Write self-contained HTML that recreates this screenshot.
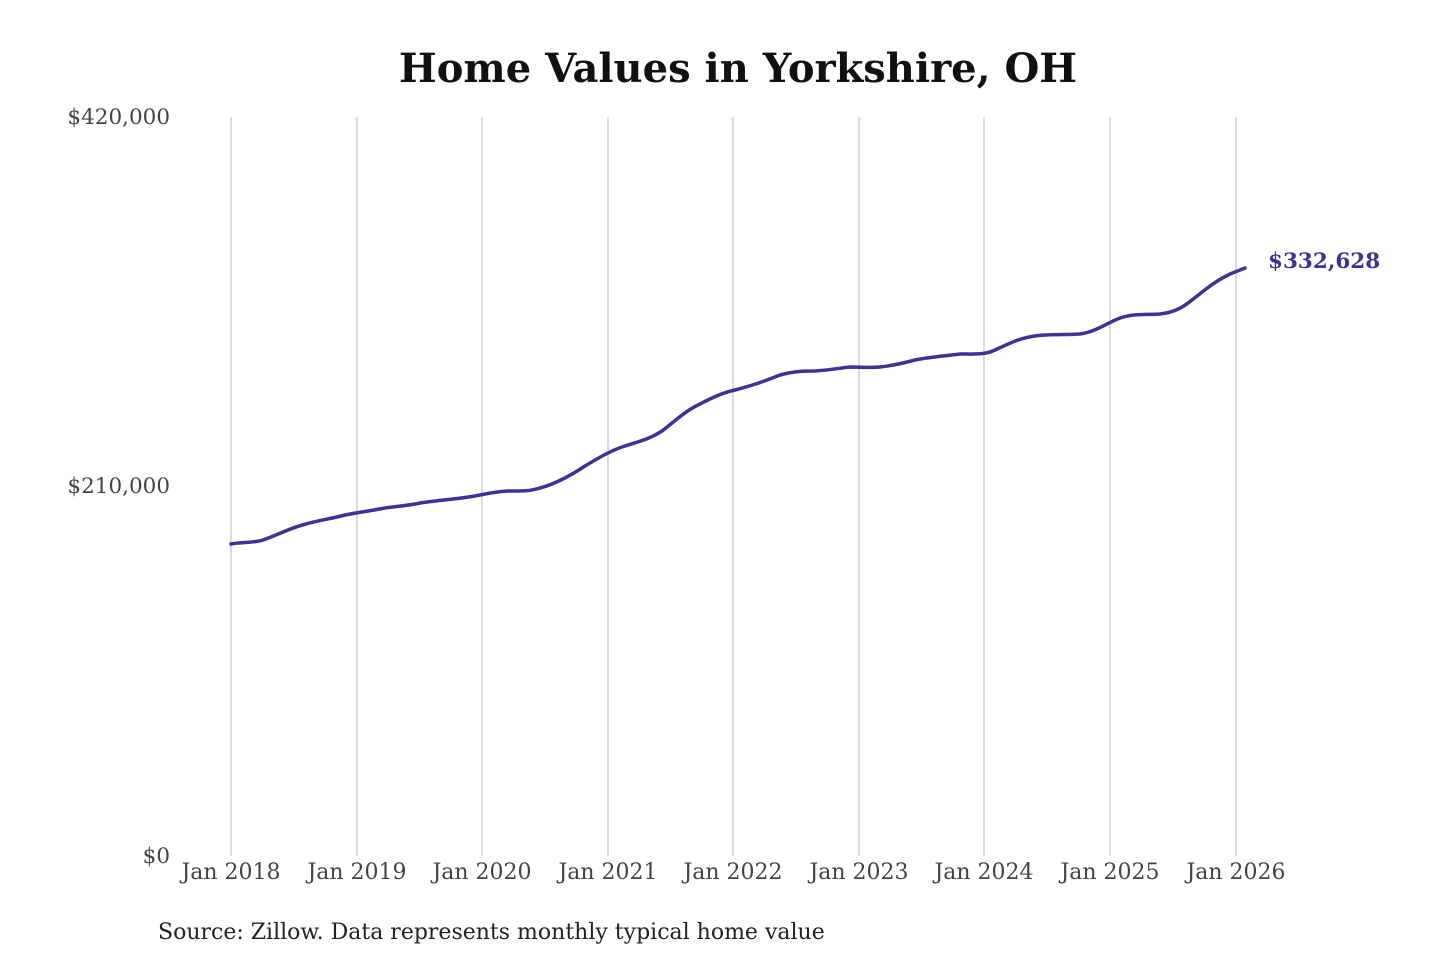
<!DOCTYPE html>
<html><head><style>
html,body{margin:0;padding:0;background:#fff;}
svg text{font-family:"DejaVu Serif","Liberation Serif",serif;}
</style></head><body>
<svg width="1440" height="960" viewBox="0 0 1440 960" xmlns="http://www.w3.org/2000/svg">
<rect width="1440" height="960" fill="#fff"/>
<text x="738" y="82" text-anchor="middle" font-size="40" font-weight="bold" fill="#111">Home Values in Yorkshire, OH</text>
<g stroke="#c8c8c8" stroke-width="1.3">
<line x1="231" y1="117" x2="231" y2="856"/>
<line x1="357" y1="117" x2="357" y2="856"/>
<line x1="482" y1="117" x2="482" y2="856"/>
<line x1="608" y1="117" x2="608" y2="856"/>
<line x1="733" y1="117" x2="733" y2="856"/>
<line x1="859" y1="117" x2="859" y2="856"/>
<line x1="984" y1="117" x2="984" y2="856"/>
<line x1="1110" y1="117" x2="1110" y2="856"/>
<line x1="1236" y1="117" x2="1236" y2="856"/>
</g>
<g font-size="21.5" fill="#444" text-anchor="end">
<text x="170" y="124">$420,000</text>
<text x="170" y="493">$210,000</text>
<text x="170" y="863">$0</text>
</g>
<g font-size="22" fill="#444" text-anchor="middle">
<text x="231" y="879">Jan 2018</text>
<text x="357" y="879">Jan 2019</text>
<text x="482" y="879">Jan 2020</text>
<text x="608" y="879">Jan 2021</text>
<text x="733" y="879">Jan 2022</text>
<text x="859" y="879">Jan 2023</text>
<text x="984" y="879">Jan 2024</text>
<text x="1110" y="879">Jan 2025</text>
<text x="1236" y="879">Jan 2026</text>
</g>
<path fill="none" stroke="#3b3494" stroke-width="3.5" stroke-linejoin="round" stroke-linecap="round"
d="M231,544 C240,542 255,543 263,540 C280,534 290,528 306,524 C320,520 330,519 345,515 C360,512 370,511 385,508 C400,506 412,505 420,503 C440,500 460,499 480,495 C490,493 500,491 510,491 C525,491 530,491 540,488 C555,484 570,476 585,466 C600,457 612,450 625,446 C640,441 650,439 662,431 C675,421 685,411 700,404 C715,396 725,392 735,390 C750,386 760,383 780,375 C795,371 805,371 815,371 C830,370 840,368 850,367 C860,367 870,368 880,367 C890,366 900,364 915,360 C930,357 945,356 960,354 C975,354 985,355 995,350 C1010,343 1020,338 1035,336 C1050,334 1065,335 1080,334 C1095,332 1105,324 1120,318 C1135,313 1150,315 1160,314 C1175,312 1182,308 1192,300 C1205,290 1215,281 1230,274 L1245,268"/>
<text x="1268" y="268" font-size="21.5" font-weight="bold" fill="#3b3494">$332,628</text>
<text x="158" y="939" font-size="22" fill="#222">Source: Zillow. Data represents monthly typical home value</text>
</svg>
</body></html>
